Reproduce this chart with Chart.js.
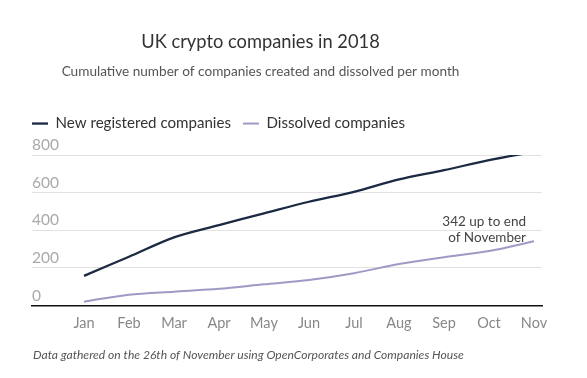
<!DOCTYPE html>
<html>
<head>
<meta charset="utf-8">
<script src="https://cdn.jsdelivr.net/npm/chart.js@4"></script>
<style>
html,body{margin:0;padding:0;background:#fff;}
#wrap{width:587px;height:378px;position:relative;}
</style>
</head>
<body>
<div id="wrap"><canvas id="c" width="587" height="378"></canvas></div>
<script>
const months = ["Jan","Feb","Mar","Apr","May","Jun","Jul","Aug","Sep","Oct","Nov"];
const newRegistered = [158, 260, 363, 428, 490, 552, 605, 671, 720, 773, 818];
const dissolved = [21, 58, 74, 89, 113, 136, 172, 221, 257, 290, 342];
const yTicks = [0, 200, 400, 600, 800];
const titleText = "UK crypto companies in 2018";
const subtitleText = "Cumulative number of companies created and dissolved per month";
const noteText = "Data gathered on the 26th of November using OpenCorporates and Companies House";
const annotationLines = ["342 up to end", "of November"];

const FONT = "Lato, 'Open Sans', sans-serif";

const textPlugin = {
  id: 'texts',
  beforeInit(chart) {
    const lg = chart.legend;
    if (lg) {
      const fit = lg.fit;
      lg.fit = function () { fit.call(this); this.height += 14; };
    }
  },
  afterDraw(chart) {
    const ctx = chart.ctx;
    ctx.save();
    ctx.textBaseline = 'middle';
    ctx.textAlign = 'center';
    ctx.fillStyle = '#333';
    ctx.font = "18.3px " + FONT;
    ctx.fillText(titleText, 260.5, 42);
    ctx.fillStyle = '#555';
    ctx.font = "13.6px " + FONT;
    ctx.fillText(subtitleText, 260.5, 72);
    ctx.textAlign = 'left';
    ctx.font = "italic 12.1px " + FONT;
    ctx.fillText(noteText, 33, 355);
    const xs = chart.scales.x, ys = chart.scales.y;
    const last = dissolved.length - 1;
    const px = xs.getPixelForValue(last), py = ys.getPixelForValue(dissolved[last]);
    ctx.textAlign = 'right';
    ctx.fillStyle = '#444';
    ctx.font = "13.5px " + FONT;
    ctx.fillText(annotationLines[0], px - 8, py - 20);
    ctx.fillText(annotationLines[1], px - 8, py - 4);
    ctx.restore();
  }
};

new Chart(document.getElementById('c'), {
  type: 'line',
  data: {
    datasets: [
      {
        label: 'New registered companies',
        data: newRegistered.map((v, i) => ({x: i, y: v})),
        borderColor: '#1b2942',
        backgroundColor: '#1b2942',
        borderWidth: 2.3,
        pointRadius: 0,
        tension: 0.3
      },
      {
        label: 'Dissolved companies',
        data: dissolved.map((v, i) => ({x: i, y: v})),
        borderColor: '#9d9bc6',
        backgroundColor: '#9d9bc6',
        borderWidth: 2,
        pointRadius: 0,
        tension: 0.3
      }
    ]
  },
  options: {
    responsive: false,
    animation: false,
    layout: { padding: { top: 104, left: 20, right: 45, bottom: 37 } },
    plugins: {
      title: { display: false },
      tooltip: { enabled: false },
      legend: {
        display: true,
        position: 'top',
        align: 'start',
        labels: {
          usePointStyle: true,
          pointStyle: 'line',
          pointStyleWidth: 16,
          padding: 12,
          color: '#333',
          font: { family: FONT, size: 15.1 }
        }
      }
    },
    scales: {
      x: {
        type: 'linear',
        min: -52 / 45,
        max: 10 + 8 / 45,
        afterBuildTicks(scale) {
          scale.ticks = months.map((m, i) => ({value: i}));
        },
        grid: { display: false, drawTicks: false },
        border: { display: true, color: '#111', width: 1.5 },
        ticks: {
          autoSkip: false,
          maxRotation: 0,
          padding: 9,
          color: '#888',
          font: { family: FONT, size: 14.5 },
          callback: (v) => months[v] ?? ''
        }
      },
      y: {
        min: 0,
        max: 800,
        afterBuildTicks(scale) {
          scale.ticks = yTicks.map(v => ({value: v}));
        },
        afterFit(scale) { scale.width = 12; },
        grid: { color: '#e2e2e2', lineWidth: 1, drawTicks: false },
        border: { display: false },
        ticks: {
          mirror: true,
          padding: 0,
          labelOffset: -10,
          color: '#aaa',
          font: { family: FONT, size: 15.5 }
        }
      }
    }
  },
  plugins: [textPlugin]
});
</script>
</body>
</html>
